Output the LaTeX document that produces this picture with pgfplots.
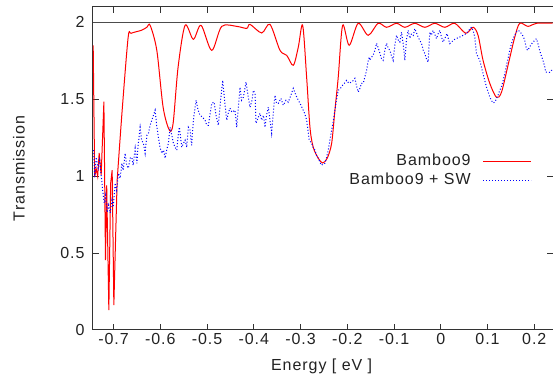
\documentclass[border=0pt]{standalone}
\usepackage{pgfplots}
\pgfplotsset{compat=1.18}
\usepackage{pgfplotstable}
\usepackage{fontspec}
\setmainfont{Liberation Sans}[LetterSpace=6]
\definecolor{txt}{HTML}{222222}
\definecolor{ax}{HTML}{333333}

\pgfplotstableread{
x y
-0.7436 1.851
-0.7404 0.994
-0.7372 1.050
-0.7340 0.999
-0.7308 1.151
-0.7265 1.008
-0.7207 1.484
-0.7173 0.455
-0.7147 0.940
-0.7101 0.130
-0.7062 0.955
-0.7030 1.039
-0.6994 0.162
-0.6955 0.617
-0.6923 0.974
}\redA

\pgfplotstableread{
x y
-0.6923 0.974
-0.6816 1.429
-0.6688 1.903
-0.6624 1.929
-0.6410 1.948
-0.6288 1.968
-0.6218 1.981
-0.6075 1.818
-0.5940 1.448
-0.5806 1.299
-0.5726 1.344
-0.5620 1.708
-0.5470 1.981
-0.5293 1.890
-0.5128 1.981
-0.4900 1.818
-0.4686 1.974
-0.4365 1.974
-0.4152 1.961
-0.4081 1.987
-0.3831 1.931
-0.3654 1.987
-0.3440 1.818
-0.3297 1.786
-0.3156 1.721
-0.3049 1.838
-0.2955 1.981
-0.2870 1.643
-0.2799 1.318
-0.2729 1.188
-0.2622 1.117
-0.2528 1.086
-0.2429 1.117
-0.2335 1.214
-0.2265 1.429
-0.2194 1.643
-0.2100 1.981
-0.1959 1.851
-0.1767 1.994
-0.1553 1.916
-0.1340 1.994
-0.1160 1.968
-0.0947 1.994
-0.0769 1.968
-0.0556 1.994
-0.0342 1.968
-0.0128 1.994
0.0085 1.968
0.0299 1.994
0.0534 1.929
0.0690 1.968
0.0797 1.916
0.0904 1.753
0.1047 1.604
0.1190 1.513
0.1297 1.545
0.1438 1.721
0.1581 1.903
0.1688 1.994
0.1865 1.974
0.2045 1.994
0.2393 1.995
}\redB

\pgfplotstableread{
x y
-0.7425 1.169
-0.7404 0.994
-0.7372 1.123
-0.7329 1.052
-0.7297 1.104
-0.7265 1.006
-0.7233 0.909
-0.7201 0.825
-0.7169 0.877
-0.7137 0.766
-0.7105 0.812
-0.7073 0.760
-0.7036 0.844
-0.7009 0.799
-0.6966 0.955
-0.6934 0.909
-0.6895 1.019
-0.6859 0.987
-0.6823 1.084
-0.6795 1.039
-0.6752 1.149
-0.6720 1.071
-0.6682 1.052
-0.6645 1.117
-0.6609 1.123
-0.6581 1.071
-0.6538 1.182
-0.6502 1.084
-0.6474 1.201
-0.6432 1.318
-0.6400 1.234
-0.6361 1.214
-0.6325 1.149
-0.6288 1.266
-0.6254 1.279
-0.6218 1.331
-0.6182 1.364
-0.6147 1.396
-0.6111 1.429
-0.6079 1.331
-0.6041 1.253
-0.6004 1.182
-0.5968 1.149
-0.5929 1.169
-0.5897 1.117
-0.5865 1.169
-0.5827 1.214
-0.5791 1.318
-0.5754 1.266
-0.5720 1.214
-0.5684 1.188
-0.5647 1.169
-0.5613 1.279
-0.5592 1.318
-0.5541 1.188
-0.5506 1.214
-0.5470 1.234
-0.5434 1.188
-0.5400 1.318
-0.5363 1.299
-0.5331 1.201
-0.5293 1.364
-0.5235 1.494
-0.5192 1.429
-0.5150 1.396
-0.5096 1.383
-0.5043 1.364
-0.5006 1.331
-0.4972 1.331
-0.4900 1.474
-0.4850 1.482
-0.4808 1.396
-0.4759 1.331
-0.4722 1.461
-0.4665 1.623
-0.4626 1.494
-0.4579 1.364
-0.4541 1.416
-0.4509 1.442
-0.4466 1.416
-0.4402 1.429
-0.4365 1.318
-0.4327 1.461
-0.4295 1.578
-0.4263 1.494
-0.4224 1.513
-0.4167 1.612
-0.4124 1.526
-0.4081 1.448
-0.4038 1.494
-0.4011 1.558
-0.3974 1.539
-0.3953 1.344
-0.3904 1.383
-0.3868 1.409
-0.3831 1.364
-0.3793 1.396
-0.3761 1.318
-0.3729 1.396
-0.3690 1.448
-0.3654 1.364
-0.3618 1.279
-0.3579 1.429
-0.3547 1.526
-0.3515 1.474
-0.3476 1.474
-0.3419 1.506
-0.3370 1.461
-0.3312 1.494
-0.3263 1.481
-0.3216 1.519
-0.3156 1.571
-0.3098 1.526
-0.3049 1.494
-0.2991 1.461
-0.2942 1.429
-0.2906 1.403
-0.2870 1.364
-0.2842 1.299
-0.2814 1.234
-0.2763 1.214
-0.2724 1.182
-0.2692 1.169
-0.2660 1.136
-0.2622 1.117
-0.2585 1.091
-0.2549 1.071
-0.2515 1.082
-0.2479 1.084
-0.2447 1.117
-0.2408 1.169
-0.2372 1.234
-0.2335 1.299
-0.2297 1.364
-0.2265 1.429
-0.2233 1.494
-0.2194 1.558
-0.2147 1.571
-0.2100 1.591
-0.2062 1.604
-0.2015 1.623
-0.1966 1.604
-0.1908 1.612
-0.1870 1.623
-0.1838 1.636
-0.1806 1.591
-0.1767 1.547
-0.1731 1.571
-0.1694 1.604
-0.1660 1.604
-0.1624 1.645
-0.1588 1.688
-0.1560 1.740
-0.1532 1.775
-0.1517 1.753
-0.1485 1.773
-0.1447 1.786
-0.1410 1.818
-0.1374 1.864
-0.1335 1.831
-0.1303 1.799
-0.1271 1.766
-0.1233 1.753
-0.1197 1.818
-0.1160 1.864
-0.1122 1.831
-0.1090 1.818
-0.1058 1.786
-0.1019 1.753
-0.0983 1.851
-0.0947 1.916
-0.0908 1.883
-0.0876 1.872
-0.0840 1.937
-0.0801 1.851
-0.0769 1.753
-0.0737 1.883
-0.0699 1.948
-0.0662 1.896
-0.0626 1.927
-0.0588 1.916
-0.0556 1.959
-0.0524 1.935
-0.0485 1.905
-0.0449 1.883
-0.0412 1.862
-0.0374 1.818
-0.0342 1.797
-0.0310 1.766
-0.0271 1.742
-0.0235 1.937
-0.0203 1.916
-0.0165 1.948
-0.0128 1.922
-0.0092 1.894
-0.0053 1.929
-0.0021 1.948
0.0011 1.909
0.0049 1.872
0.0085 1.896
0.0135 1.927
0.0160 1.896
0.0192 1.862
0.0224 1.870
0.0263 1.883
0.0299 1.890
0.0335 1.894
0.0374 1.903
0.0406 1.905
0.0442 1.909
0.0476 1.916
0.0513 1.922
0.0549 1.927
0.0598 1.948
0.0656 1.969
0.0690 1.948
0.0726 1.905
0.0763 1.797
0.0801 1.773
0.0833 1.753
0.0865 1.714
0.0904 1.667
0.0940 1.623
0.0976 1.580
0.1015 1.545
0.1047 1.515
0.1079 1.494
0.1118 1.476
0.1154 1.482
0.1186 1.500
0.1224 1.526
0.1261 1.558
0.1297 1.580
0.1335 1.623
0.1368 1.667
0.1400 1.714
0.1438 1.764
0.1474 1.818
0.1511 1.862
0.1549 1.896
0.1581 1.916
0.1613 1.935
0.1652 1.948
0.1688 1.942
0.1724 1.927
0.1763 1.909
0.1795 1.883
0.1831 1.829
0.1859 1.818
0.1902 1.840
0.1934 1.857
0.1972 1.872
0.2009 1.883
0.2045 1.894
0.2083 1.857
0.2115 1.818
0.2147 1.786
0.2186 1.753
0.2222 1.714
0.2244 1.677
0.2293 1.677
0.2329 1.675
0.2365 1.688
0.2393 1.688
}\blue

\begin{document}
\begin{tikzpicture}[font=\fontsize{16}{19}\selectfont]
\begin{axis}[
  scale only axis,
  width=460pt, height=323pt,
  xmin=-0.744, xmax=0.24,
  ymin=0, ymax=2.1,
  axis line style={ax, line width=1pt},
  tick style={ax, line width=1pt},
  tick align=inside,
  major tick length=6pt,
  xtick={-0.7,-0.6,-0.5,-0.4,-0.3,-0.2,-0.1,0,0.1,0.2},
  xticklabels={-0.7,-0.6,-0.5,-0.4,-0.3,-0.2,-0.1,0,0.1,0.2},
  ytick={0,0.5,1,1.5,2},
  yticklabels={0,0.5,1,1.5,2},
  xticklabel style={text=txt},
  yticklabel style={text=txt, xshift=-5pt},
  xlabel={Energy [ eV ]},
  ylabel={Transmission},
  every axis x label/.style={at={(axis description cs:0.497,-0.124)}, anchor=base, text=txt},
  every axis y label/.style={at={(axis description cs:-0.161,0.5)}, rotate=90, anchor=center, text=txt},
  clip=true,
  legend plot pos=right,
  legend cell align=right,
  legend image code/.code={\draw[#1] (0pt,0pt) -- (48pt,0pt);},
  legend style={draw=none, fill=none, at={(0.954,0.492)}, anchor=east,
    inner sep=0pt, row sep=2.3pt, column sep=12pt, text=txt,
    nodes={inner sep=0pt, text height=12pt, text depth=4pt}},
]
\addplot[black!70, line width=1pt, forget plot] coordinates {(-0.744,2) (0.24,2)};
\addplot[red, line width=1pt, smooth, tension=0.5] table {\redB};
\addlegendentry{Bamboo9}
\addplot[red, line width=1pt, forget plot] table {\redA};
\addplot[blue, line width=1pt, dash pattern=on 1pt off 2pt] table {\blue};
\addlegendentry{Bamboo9 + SW}
\end{axis}
\pgfresetboundingbox
\path[use as bounding box] ([shift={(-93pt,-60pt)}]current axis.south west) rectangle ([shift={(0pt,7pt)}]current axis.north east);
\end{tikzpicture}
\end{document}
